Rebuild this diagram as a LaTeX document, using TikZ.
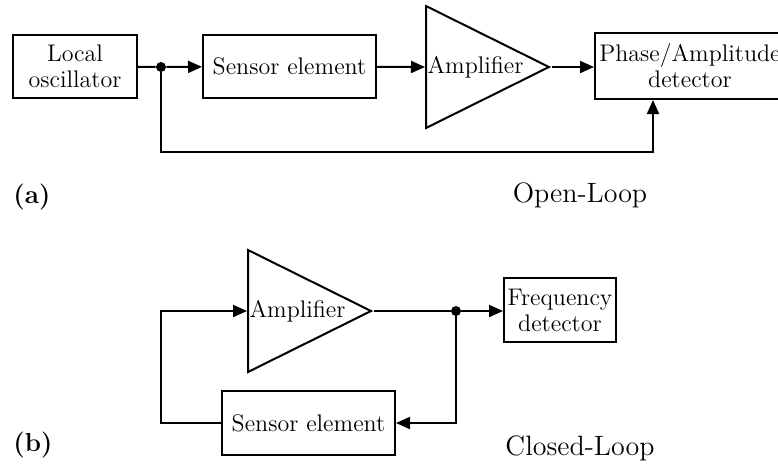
\documentclass[tikz,border=0pt]{standalone}
\usetikzlibrary{arrows.meta,shapes.geometric,positioning}
\begin{document}
\begin{tikzpicture}[x=0.5pt,y=0.5pt,
  block/.style={draw, line width=1pt, align=center, inner sep=0pt, font=\fontsize{12}{13}\selectfont},
  amp/.style={draw, line width=1pt, isosceles triangle, isosceles triangle stretches, minimum width=61pt, minimum height=61.5pt, inner sep=0pt, font=\fontsize{12}{13}\selectfont},
  conn/.style={line width=1pt, -{Triangle[length=7pt,width=6pt]}},
  dot/.style={circle, fill, inner sep=0pt, minimum size=5pt},
  title/.style={inner sep=0pt, font=\fontsize{14}{16}\selectfont}]
\useasboundingbox (0,0) rectangle (778,-463);

% (a) open loop
\node[block, minimum width=62pt, minimum height=31.5pt] (osc) at (75,-66.5) {Local\\oscillator};
\node[block, minimum width=86.5pt, minimum height=31.5pt] (sens1) at (289.5,-66.5) {Sensor element};
\node[amp, anchor=lower side] (amp1) at (425,-67) {Amplifier};
\node[block, minimum width=95pt, minimum height=33pt] (det) at (690,-66) {Phase/Amplitude\\detector};
\node[dot] (split1) at (161,-67) {};
\coordinate (fb1) at (653,-152);
\draw[line width=1pt] (osc) -- (split1);
\draw[conn] (split1) -- (sens1);
\draw[conn] (sens1) -- (amp1.lower side);
\draw[conn] (amp1.apex) -- (amp1.apex -| det.west);
\draw[conn] (split1) |- (fb1) -- (fb1 |- det.south);
\node[title, font=\bfseries\fontsize{13}{15}\selectfont, anchor=west] (laba) at (13,-197) {(a)};
\node[title] (opena) at (580,-195) {Open-Loop};

% (b) closed loop
\node[amp, anchor=lower side] (amp2) at (247,-311) {Amplifier};
\node[dot] (split2) at (456,-311) {};
\node[block, minimum width=56pt, minimum height=32pt] (freq) at (560,-310) {Frequency\\detector};
\node[block, minimum width=86.5pt, minimum height=32pt] (sens2) at (308.5,-423) {Sensor element};
\coordinate (ret) at (161,-311);
\draw[line width=1pt] (amp2.apex) -- (split2);
\draw[conn] (split2) -- (split2 -| freq.west);
\draw[conn] (split2) |- (sens2);
\draw[conn] (sens2) -| (ret) -- (amp2.lower side);
\node[title, font=\bfseries\fontsize{13}{15}\selectfont, anchor=west] (labb) at (13,-445) {(b)};
\node[title] (closedb) at (580,-448) {Closed-Loop};
\end{tikzpicture}
\end{document}
